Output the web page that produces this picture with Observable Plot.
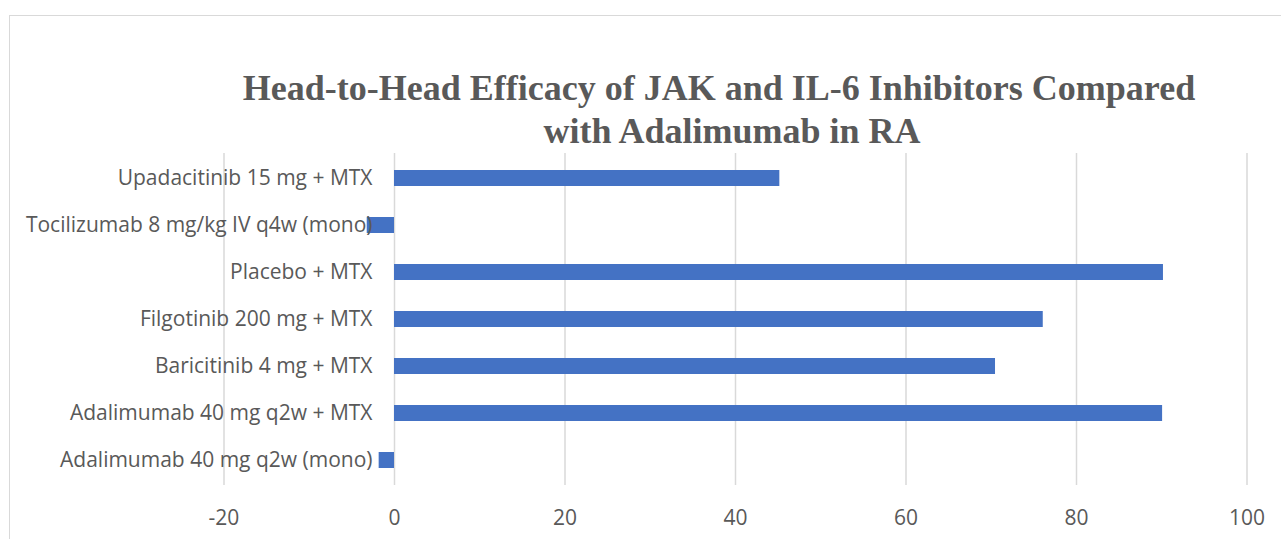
<!DOCTYPE html>
<html>
<head>
<meta charset="utf-8">
<script src="https://cdn.jsdelivr.net/npm/d3@7"></script>
<script src="https://cdn.jsdelivr.net/npm/@observablehq/plot@0.6"></script>
<style>
  html, body { margin: 0; padding: 0; background: #fff; overflow: hidden; }
  #wrap { position: relative; width: 1281px; height: 539px; overflow: hidden; }
  #frame { position: absolute; left: 9px; top: 15px; width: 1400px; height: 700px; border: 1.5px solid #d9d9d9; box-sizing: border-box; }
  #chart { position: absolute; left: 0; top: 0; }
  .title { position: absolute; font-family: "Liberation Serif", "Times New Roman", serif; font-weight: bold; font-size: 36px; line-height: 36px; color: #595959; white-space: nowrap; transform: translateX(-50%); }
</style>
</head>
<body>
<div id="wrap">
  <div id="frame"></div>
  <div id="chart"></div>
  <div class="title" id="t1" style="left:719px; top:70px;"></div>
  <div class="title" id="t2" style="left:732px; top:113px;"></div>
</div>
<script>
const titleLines = ["Head-to-Head Efficacy of JAK and IL-6 Inhibitors Compared", "with Adalimumab in RA"];
const categories = [
  "Upadacitinib 15 mg + MTX",
  "Tocilizumab 8 mg/kg IV q4w (mono)",
  "Placebo + MTX",
  "Filgotinib 200 mg + MTX",
  "Baricitinib 4 mg + MTX",
  "Adalimumab 40 mg q2w + MTX",
  "Adalimumab 40 mg q2w (mono)"
];
const values = [45.2, -3.2, 90.2, 76.1, 70.5, 90.1, -1.8];
const xTicks = [-20, 0, 20, 40, 60, 80, 100];

document.getElementById("t1").textContent = titleLines[0];
document.getElementById("t2").textContent = titleLines[1];

const data = categories.map((c, i) => ({category: c, value: values[i]}));

const plot = Plot.plot({
  width: 1281,
  height: 539,
  marginLeft: 223.5,
  marginRight: 34.5,
  marginTop: 153,
  marginBottom: 54,
  x: {domain: [-20, 100], label: null},
  y: {domain: categories, paddingInner: 0.66, paddingOuter: 0.33, axis: null, label: null},
  style: {fontFamily: "'Open Sans', sans-serif", fontSize: "21px", color: "#595959", background: "transparent", overflow: "visible"},
  marks: [
    Plot.ruleX(xTicks, {stroke: "#d9d9d9", strokeWidth: 1.5}),
    Plot.barX(data, {x: "value", y: "category", fill: "#4472C4"}),
    Plot.text(categories, {x: () => 0, y: d => d, text: d => d, dx: -22, textAnchor: "end", fill: "#595959", fontSize: 21}),
    Plot.axisX({ticks: xTicks, tickSize: 0, tickPadding: 25, fontSize: 21, fill: "#595959", label: null, tickFormat: d => String(d)})
  ]
});
document.getElementById("chart").appendChild(plot);
</script>
</body>
</html>
